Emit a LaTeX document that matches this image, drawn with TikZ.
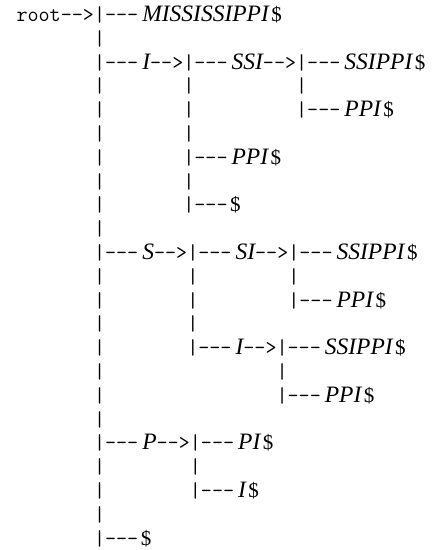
\documentclass[tikz,border=0pt]{standalone}
\usepackage{fontspec}
\newfontfamily\treeserif{Liberation Serif}

\newcommand\lbl[1]{\hspace{4pt}{\fontsize{23.5}{24}\selectfont\treeserif\itshape #1}}
\newcommand\dol{\hspace{2.5pt}{\fontsize{21}{24}\selectfont\treeserif\$}}
\newcommand\brn{|-{}-{}-}
\newcommand\arw{-{}->}

\begin{document}
\begin{tikzpicture}[x = 1pt, y = -23.8pt,
    seg/.style = {inner sep = 0pt, outer sep = 0pt, anchor = base west, font = {\fontsize{21.5}{24}\selectfont\ttfamily}},
    ]
    \useasboundingbox (0pt,0pt) rectangle (432pt,-550pt);
    \begin{scope}[yshift = 2.3pt]
    % root
    \node[seg] (root) at (16.5,1) {root\arw};
    \node[seg] (mis) at (root.base east) {\brn\lbl{MISSISSIPPI}\dol};
    \foreach \r in {2,4,5,6,7,8,9,10,12,13,14,15,16,17,18,20,21,22}
        \node[seg] (bar-a-\r) at (mis.base west |- 0,\r) {|};

    % branch I
    \node[seg] (i) at (mis.base west |- 0,3) {\brn\lbl{I}\arw};
    \node[seg] (i-ssi) at (i.base east) {\brn\lbl{SSI}\arw};
    \node[seg] (i-ssi-ssippi) at (i-ssi.base east) {\brn\lbl{SSIPPI}\dol};
    \foreach \r in {4,5,6,8}
        \node[seg] (bar-i-\r) at (i-ssi.base west |- 0,\r) {|};
    \node[seg] (bar-ssi-4) at (i-ssi-ssippi.base west |- 0,4) {|};
    \node[seg] (i-ssi-ppi) at (i-ssi-ssippi.base west |- 0,5) {\brn\lbl{PPI}\dol};
    \node[seg] (i-ppi) at (i-ssi.base west |- 0,7) {\brn\lbl{PPI}\dol};
    \node[seg] (i-end) at (i-ssi.base west |- 0,9) {\brn\dol};

    % branch S
    \node[seg] (s) at (mis.base west |- 0,11) {\brn\lbl{S}\arw};
    \node[seg] (s-si) at (s.base east) {\brn\lbl{SI}\arw};
    \node[seg] (s-si-ssippi) at (s-si.base east) {\brn\lbl{SSIPPI}\dol};
    \foreach \r in {12,13,14}
        \node[seg] (bar-s-\r) at (s-si.base west |- 0,\r) {|};
    \node[seg] (bar-si-12) at (s-si-ssippi.base west |- 0,12) {|};
    \node[seg] (s-si-ppi) at (s-si-ssippi.base west |- 0,13) {\brn\lbl{PPI}\dol};
    \node[seg] (s-i) at (s-si.base west |- 0,15) {\brn\lbl{I}\arw};
    \node[seg] (s-i-ssippi) at (s-i.base east) {\brn\lbl{SSIPPI}\dol};
    \node[seg] (bar-si-16) at (s-i-ssippi.base west |- 0,16) {|};
    \node[seg] (s-i-ppi) at (s-i-ssippi.base west |- 0,17) {\brn\lbl{PPI}\dol};

    % branch P
    \node[seg] (p) at (mis.base west |- 0,19) {\brn\lbl{P}\arw};
    \node[seg] (p-pi) at (p.base east) {\brn\lbl{PI}\dol};
    \node[seg] (bar-p-20) at (p-pi.base west |- 0,20) {|};
    \node[seg] (p-i) at (p-pi.base west |- 0,21) {\brn\lbl{I}\dol};

    % leaf $
    \node[seg] (end) at (mis.base west |- 0,23) {\brn\dol};
    \end{scope}
\end{tikzpicture}
\end{document}
